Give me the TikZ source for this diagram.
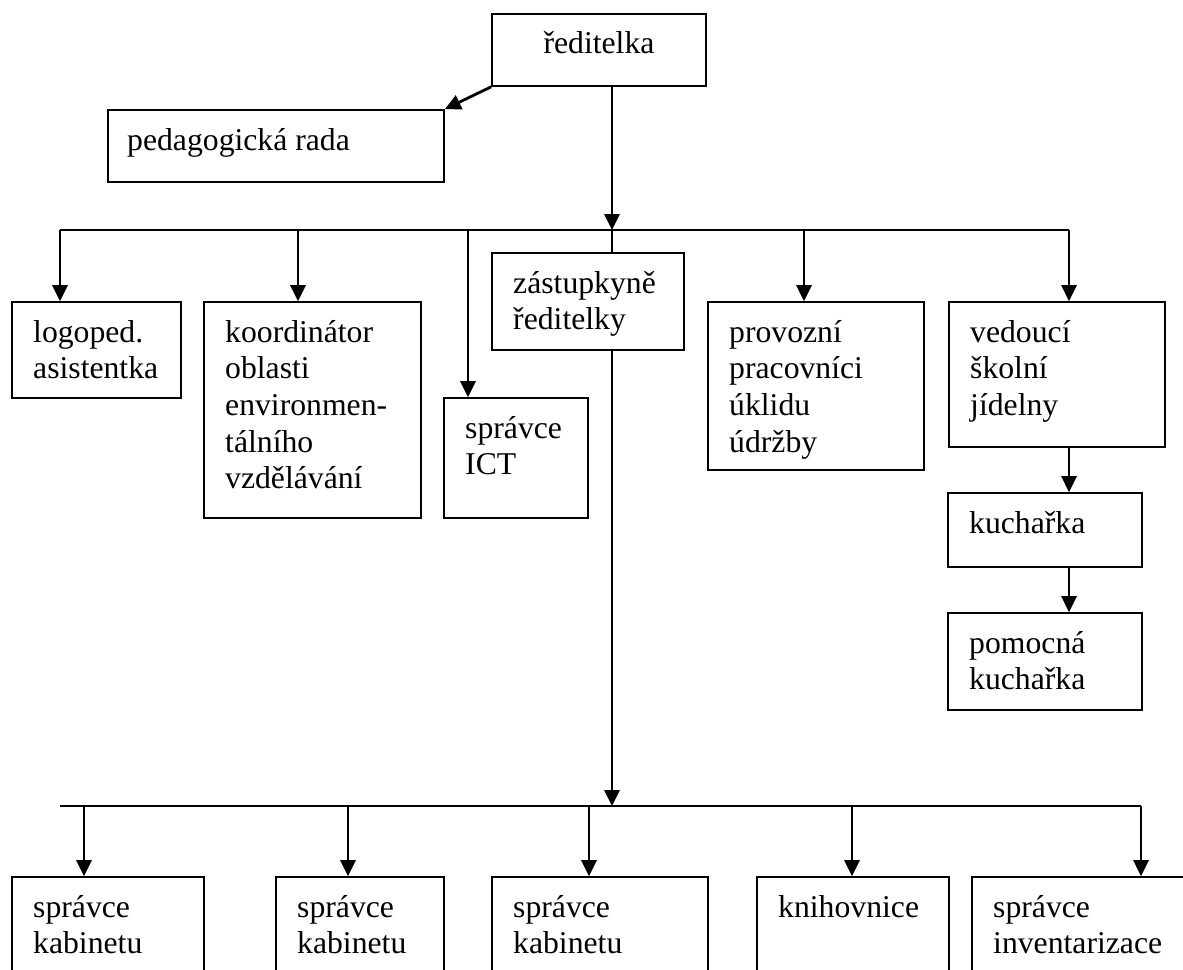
\documentclass[tikz,border=0pt]{standalone}
\usepackage{fontspec}
\setmainfont{Liberation Serif}
\usetikzlibrary{arrows.meta,fit}
\tikzset{
  boxst/.style={draw, line width=1.6pt, fill=white, inner sep=0pt},
  txt/.style={inner sep=0pt, align=left, font=\fontsize{31.7}{36.6}\selectfont},
  conn/.style={line width=2.8pt, -{Triangle[length=16pt,width=15pt]}},
  plainln/.style={line width=2.8pt},
  busln/.style={line width=1.8pt},
}
\newcommand{\obox}[6]{%
  \coordinate (#1-a) at (#2,-#3);
  \coordinate (#1-b) at (#4,-#5);
  \node[boxst, fit=(#1-a)(#1-b)] (#1) {};
  \node[txt, anchor=north west] (#1-t) at (#2+21,-#3-10) {\rule{0pt}{30pt}#6};
}
\begin{document}
\begin{tikzpicture}[x=1pt,y=1pt]
\fill[white] (0,0) rectangle (1183,-969);
\useasboundingbox (0,0) rectangle (1183,-969);
\clip (0,0) rectangle (1183,-969);

% top boxes
\coordinate (red-a) at (492,-14);
\coordinate (red-b) at (706,-86);
\node[boxst, fit=(red-a)(red-b)] (red) {};
\node[txt, anchor=base] (red-t) at (599,-53) {ředitelka};

\coordinate (ped-a) at (108,-110);
\coordinate (ped-b) at (444,-182);
\node[boxst, fit=(ped-a)(ped-b)] (ped) {};
\node[txt, anchor=base west] (ped-t) at (127,-150) {pedagogická rada};

% second level
\obox{logo}{12}{302}{181}{398}{logoped.\\asistentka}
\obox{koord}{204}{302}{421}{518}{koordinátor\\oblasti\\environmen-\\tálního\\vzdělávání}
\obox{ict}{444}{398}{588}{518}{správce\\ICT}
\obox{zast}{492}{253}{684}{350}{zástupkyně\\ředitelky}
\obox{prov}{708}{302}{924}{470}{provozní\\pracovníci\\úklidu\\údržby}
\obox{ved}{949}{302}{1165}{447}{vedoucí\\školní\\jídelny}
\obox{kuch}{948}{493}{1142}{567}{kuchařka}
\obox{pom}{948}{613}{1142}{710}{pomocná\\kuchařka}

% bottom level
\obox{kab1}{12}{877}{204}{1000}{správce\\kabinetu}
\obox{kab2}{276}{877}{444}{1000}{správce\\kabinetu}
\obox{kab3}{492}{877}{708}{1000}{správce\\kabinetu}
\obox{knih}{757}{877}{949}{1000}{knihovnice}
\obox{inv}{972}{877}{1200}{1000}{správce\\inventarizace}

% bus coordinates
\coordinate (busL) at (60,-230);
\coordinate (busM) at (612,-230);
\coordinate (busR) at (1069,-230);
\coordinate (d1) at (60,-230);
\coordinate (d2) at (298,-230);
\coordinate (d3) at (468,-230);
\coordinate (d4) at (804,-230);
\coordinate (d5) at (1069,-230);

\coordinate (bbL) at (60,-806);
\coordinate (bbM) at (612,-806);
\coordinate (bbR) at (1141,-806);
\coordinate (e1) at (84,-806);
\coordinate (e2) at (348,-806);
\coordinate (e3) at (589,-806);
\coordinate (e4) at (852,-806);
\coordinate (e5) at (1141,-806);

% connectors
\draw[conn] (red.south west) -- (ped.north east);
\draw[conn] (red.south -| busM) -- (busM);
\draw[busln] (busL) -- (busR);
\draw[conn] (d1) -- (d1 |- logo.north);
\draw[conn] (d2) -- (d2 |- koord.north);
\draw[conn] (d3) -- (d3 |- ict.north);
\draw[conn] (d4) -- (d4 |- prov.north);
\draw[conn] (d5) -- (d5 |- ved.north);
\draw[plainln] (busM) -- (busM |- zast.north);
\draw[conn] (zast.south -| busM) -- (bbM);
\draw[conn] (ved.south -| d5) -- (d5 |- kuch.north);
\draw[conn] (kuch.south -| d5) -- (d5 |- pom.north);

\draw[busln] (bbL) -- (bbR);
\draw[conn] (e1) -- (e1 |- kab1.north);
\draw[conn] (e2) -- (e2 |- kab2.north);
\draw[conn] (e3) -- (e3 |- kab3.north);
\draw[conn] (e4) -- (e4 |- knih.north);
\draw[conn] (e5) -- (e5 |- inv.north);
\end{tikzpicture}
\end{document}
